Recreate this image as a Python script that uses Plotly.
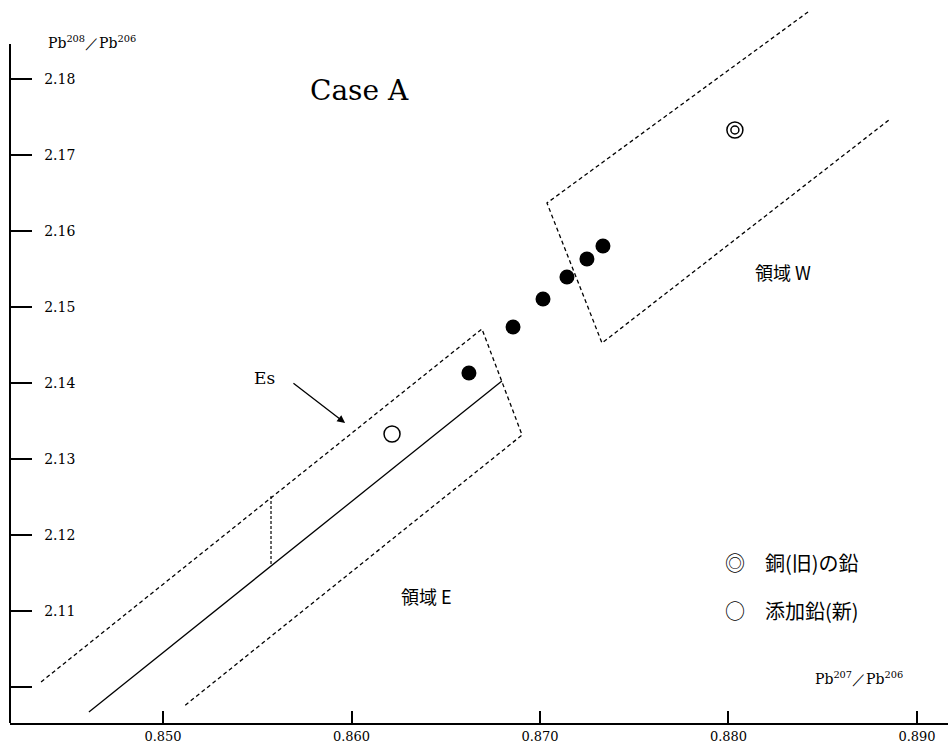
import plotly.graph_objects as go

# ---- data ----
dots_x = [0.86623, 0.86857, 0.87016, 0.87143, 0.87249, 0.87334]
dots_y = [2.14132, 2.14737, 2.15105, 2.15395, 2.15632, 2.15803]

new_lead_x = [0.86215]          # 添加鉛(新)  ○
new_lead_y = [2.13329]
old_lead_x = [0.88034]          # 銅(旧)の鉛  ◎
old_lead_y = [2.17329]

# region E (dashed outline) and centre line
regE_x = [0.84353, 0.86692, 0.86905, 0.85106]
regE_y = [2.10066, 2.14711, 2.13316, 2.09737]
lineE_x = [0.84607, 0.86798]
lineE_y = [2.09671, 2.14026]
esE_x = [0.85573, 0.85573]
esE_y = [2.12513, 2.11605]

# region W (dashed outline)
regW_x = [0.88422, 0.87037, 0.87329, 0.88851]
regW_y = [2.18882, 2.16368, 2.14526, 2.17461]

x_ticks = [0.850, 0.860, 0.870, 0.880, 0.890]
x_labels = ["0.850", "0.860", "0.870", "0.880", "0.890"]
y_ticks = [2.10, 2.11, 2.12, 2.13, 2.14, 2.15, 2.16, 2.17, 2.18]
y_labels = ["", "2.11", "2.12", "2.13", "2.14", "2.15", "2.16", "2.17", "2.18"]

X_RANGE = [0.841883, 0.891645]
Y_RANGE = [2.095263, 2.190395]

SERIF = "DejaVu Serif"
CJK = "Noto Sans CJK JP"
DASH = "4px,3px"

fig = go.Figure()

fig.add_trace(go.Scatter(x=regE_x, y=regE_y, mode="lines",
                         line=dict(color="black", width=1.3, dash=DASH)))
fig.add_trace(go.Scatter(x=esE_x, y=esE_y, mode="lines",
                         line=dict(color="black", width=1.2, dash="3px,2px")))
fig.add_trace(go.Scatter(x=lineE_x, y=lineE_y, mode="lines",
                         line=dict(color="black", width=1.3)))
fig.add_trace(go.Scatter(x=regW_x, y=regW_y, mode="lines",
                         line=dict(color="black", width=1.3, dash=DASH)))

fig.add_trace(go.Scatter(x=dots_x, y=dots_y, mode="markers",
                         marker=dict(symbol="circle", size=15, color="black")))
fig.add_trace(go.Scatter(x=new_lead_x, y=new_lead_y, mode="markers",
                         marker=dict(symbol="circle-open", size=16, color="black",
                                     line=dict(width=1.5))))
fig.add_trace(go.Scatter(x=old_lead_x, y=old_lead_y, mode="markers",
                         marker=dict(symbol="circle-open", size=16, color="black",
                                     line=dict(width=1.5))))
fig.add_trace(go.Scatter(x=old_lead_x, y=old_lead_y, mode="markers",
                         marker=dict(symbol="circle-open", size=8, color="black",
                                     line=dict(width=1.5))))

# y axis line (starts below the title)
fig.add_shape(type="line", xref="paper", yref="y", x0=0, x1=0,
              y0=Y_RANGE[0], y1=2.18461, line=dict(color="black", width=2))

annos = [
    dict(x=0.86040, y=2.1785, text="Case A", font=dict(family=SERIF, size=28)),
    dict(x=0.85541, y=2.14066, text="Es", font=dict(family=SERIF, size=17)),
    dict(x=0.88289, y=2.15461, text="領域 W", font=dict(family=CJK, size=18)),
    dict(x=0.86398, y=2.11197, text="領域 E", font=dict(family=CJK, size=18)),
]
for a in annos:
    fig.add_annotation(showarrow=False, xref="x", yref="y", xanchor="center",
                       yanchor="middle", **a)

# legend-like notes: symbol text placed at its measured position
legend_y = [2.11632, 2.11013]
legend_sym = ["◎", "○"]
legend_txt = ["銅(旧)の鉛", "添加鉛(新)"]
for yv, s, t in zip(legend_y, legend_sym, legend_txt):
    fig.add_annotation(x=old_lead_x[0], y=yv, xref="x", yref="y", text=s,
                       showarrow=False, xanchor="center", yanchor="middle",
                       font=dict(family=CJK, size=20))
    fig.add_annotation(x=old_lead_x[0], y=yv, xref="x", yref="y", text=t,
                       showarrow=False, xanchor="left", yanchor="middle",
                       xshift=28, font=dict(family=CJK, size=20))

# Es arrow
fig.add_annotation(x=0.85966, y=2.13474, ax=0.85684, ay=2.14013,
                   xref="x", yref="y", axref="x", ayref="y", text="",
                   showarrow=True, arrowhead=2, arrowsize=1.2, arrowwidth=1.3,
                   arrowcolor="black")

# axis titles
fig.add_annotation(x=0.0874, y=0.9419, xref="paper", yref="paper",
                   text="Pb<sup>208</sup>／Pb<sup>206</sup>", showarrow=False,
                   xanchor="center", yanchor="middle",
                   font=dict(family=SERIF, size=14))
fig.add_annotation(x=0.905, y=0.0622, xref="paper", yref="paper",
                   text="Pb<sup>207</sup>／Pb<sup>206</sup>", showarrow=False,
                   xanchor="center", yanchor="middle",
                   font=dict(family=SERIF, size=14))

fig.update_layout(
    width=948, height=745,
    margin=dict(l=10, r=0, t=0, b=22),
    paper_bgcolor="white", plot_bgcolor="white",
    showlegend=False,
    font=dict(color="black", family=SERIF),
    xaxis=dict(range=X_RANGE, tickvals=x_ticks, ticktext=x_labels,
               showgrid=False, zeroline=False, showline=True,
               linecolor="black", linewidth=2, ticks="inside", ticklen=12,
               tickwidth=1.5, tickcolor="black", automargin=False,
               tickfont=dict(family=SERIF, size=13, color="black")),
    yaxis=dict(range=Y_RANGE, tickvals=y_ticks, ticktext=y_labels,
               showgrid=False, zeroline=False, showline=False,
               ticks="inside", ticklen=22, tickwidth=1.5, tickcolor="black",
               ticklabelposition="inside", ticklabelstandoff=12, automargin=False,
               tickfont=dict(family=SERIF, size=14, color="black")),
)

fig.write_html("out.html", config={"displayModeBar": False},
               post_script="document.body.style.margin='0';")
